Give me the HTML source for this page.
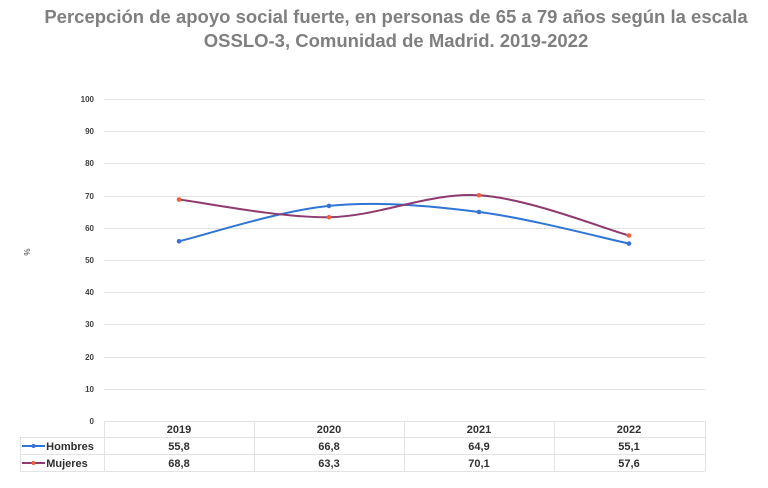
<!DOCTYPE html>
<html><head><meta charset="utf-8"><style>
body{margin:0;background:#fff;width:768px;height:483px;overflow:hidden}
</style></head><body>
<svg width="768" height="483" xmlns="http://www.w3.org/2000/svg" font-family="Liberation Sans, sans-serif">
<text x="396" y="23" text-anchor="middle" font-size="18.5" font-weight="bold" fill="#7f7f7f">Percepción de apoyo social fuerte, en personas de 65 a 79 años según la escala</text>
<text x="396" y="47" text-anchor="middle" font-size="18.5" font-weight="bold" fill="#7f7f7f">OSSLO-3, Comunidad de Madrid. 2019-2022</text>
<g stroke="#e3e3e3" stroke-width="1">
<line x1="104" x2="705" y1="99.5" y2="99.5"/><line x1="104" x2="705" y1="131.5" y2="131.5"/>
<line x1="104" x2="705" y1="163.5" y2="163.5"/><line x1="104" x2="705" y1="196.5" y2="196.5"/>
<line x1="104" x2="705" y1="228.5" y2="228.5"/><line x1="104" x2="705" y1="260.5" y2="260.5"/>
<line x1="104" x2="705" y1="292.5" y2="292.5"/><line x1="104" x2="705" y1="324.5" y2="324.5"/>
<line x1="104" x2="705" y1="357.5" y2="357.5"/><line x1="104" x2="705" y1="389.5" y2="389.5"/>
<line x1="104" x2="705" y1="421.5" y2="421.5"/>
<line x1="20" x2="705" y1="437.5" y2="437.5"/><line x1="20" x2="705" y1="454.5" y2="454.5"/><line x1="20" x2="705" y1="471.5" y2="471.5"/>
<line x1="104.5" x2="104.5" y1="421" y2="471"/><line x1="254.5" x2="254.5" y1="421" y2="471"/>
<line x1="404.5" x2="404.5" y1="421" y2="471"/><line x1="554.5" x2="554.5" y1="421" y2="471"/>
<line x1="705.5" x2="705.5" y1="421" y2="471"/><line x1="20.5" x2="20.5" y1="437" y2="471"/>
</g>
<g font-size="8" font-weight="bold" fill="#404040" text-anchor="end">
<text x="94" y="102">100</text><text x="94" y="134">90</text><text x="94" y="166">80</text>
<text x="94" y="199">70</text><text x="94" y="231">60</text><text x="94" y="263">50</text>
<text x="94" y="295">40</text><text x="94" y="327">30</text><text x="94" y="360">20</text>
<text x="94" y="392">10</text><text x="94" y="424">0</text>
</g>
<text x="30" y="252" font-size="8" fill="#404040" transform="rotate(-90 30 252)" text-anchor="middle">%</text>
<path d="M179,241.3 C204,235.4 279,210.8 329,205.9 C379,201 429,205.7 479,212 C529,218.3 604,238.3 629,243.6" fill="none" stroke="#2e75d6" stroke-width="2"/>
<path d="M179,199.5 C204,202.5 279,217.9 329,217.2 C379,216.5 429,192.3 479,195.3 C529,198.35 604,228.8 629,235.5" fill="none" stroke="#8e3a6e" stroke-width="2"/>
<g fill="#3a6fd8"><circle cx="179" cy="241.3" r="2.3"/><circle cx="329" cy="205.9" r="2.3"/><circle cx="479" cy="212" r="2.3"/><circle cx="629" cy="243.6" r="2.3"/></g>
<g fill="#f0603a"><circle cx="179" cy="199.5" r="2.3"/><circle cx="329" cy="217.2" r="2.3"/><circle cx="479" cy="195.3" r="2.3"/><circle cx="629" cy="235.5" r="2.3"/></g>
<g font-size="11" font-weight="bold" fill="#303030" text-anchor="middle">
<text x="179" y="433">2019</text><text x="329" y="433">2020</text><text x="479" y="433">2021</text><text x="629" y="433">2022</text>
<text x="179" y="450">55,8</text><text x="329" y="450">66,8</text><text x="479" y="450">64,9</text><text x="629" y="450">55,1</text>
<text x="179" y="467">68,8</text><text x="329" y="467">63,3</text><text x="479" y="467">70,1</text><text x="629" y="467">57,6</text>
<text x="70" y="450">Hombres</text><text x="67" y="467">Mujeres</text>
</g>
<line x1="22" x2="45" y1="446" y2="446" stroke="#2e75d6" stroke-width="2"/><circle cx="33.5" cy="446" r="2" fill="#3a6fd8"/>
<line x1="22" x2="45" y1="463" y2="463" stroke="#8e3a6e" stroke-width="2"/><circle cx="33.5" cy="463" r="2" fill="#f0603a"/>
</svg>
</body></html>
